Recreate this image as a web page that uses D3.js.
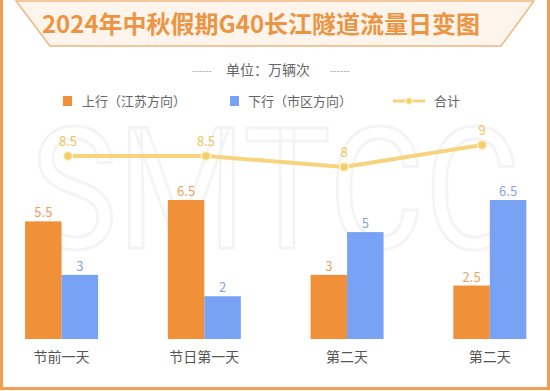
<!DOCTYPE html>
<html>
<head>
<meta charset="utf-8">
<script src="https://cdn.jsdelivr.net/npm/d3@7"></script>
<style>
  html, body { margin: 0; padding: 0; background: #fff; }
  svg { display: block; font-family: "Noto Sans CJK SC", "Noto Sans", sans-serif; }
</style>
</head>
<body>
<div id="chart"></div>
<script>
var days = ['节前一天', '节日第一天', '第二天', '第二天'];
var upValues = [5.5, 6.5, 3, 2.5];
var downValues = [3, 2, 5, 6.5];
var totalValues = [8.5, 8.5, 8, 9];
var seriesNames = ['上行（江苏方向）', '下行（市区方向）', '合计'];

var W = 550, H = 391;
var orange = '#f0913a', blue = '#78a3f4', yellow = '#f5d47c';

var svg = d3.select('#chart').append('svg')
    .attr('width', W)
    .attr('height', H);

// outer frame
svg.append('rect').attr('x', 1.5).attr('y', -2).attr('width', W - 3).attr('height', H - 0.5)
    .style('fill', '#fff').style('stroke', '#f0a050').style('stroke-width', 3);

// watermark
svg.append('text')
    .attr('x', 30).attr('y', 248)
    .attr('textLength', 490)
    .attr('lengthAdjust', 'spacingAndGlyphs')
    .style('font-size', '168px').style('font-family', 'Roboto, sans-serif')
    .style('fill', 'none').style('stroke', '#f4f4f4').style('stroke-width', 3)
    .text('SMTCC');

// title banner
svg.append('path')
    .attr('d', 'M16,1 L534,1 L501,46 L50,46 Z')
    .style('fill', '#fdf5ec').style('stroke', '#efb77e').style('stroke-width', 1.5);

svg.append('text')
    .attr('x', 261).attr('y', 33)
    .attr('text-anchor', 'middle')
    .style('font-size', '24px').style('font-weight', 'bold')
    .style('fill', '#eb9443')
    .text('2024年中秋假期G40长江隧道流量日变图');

// unit line
svg.append('text')
    .attr('x', 268).attr('y', 75)
    .attr('text-anchor', 'middle')
    .style('font-size', '14px').style('fill', '#666')
    .text('单位：万辆次');
svg.append('text').attr('x', 192).attr('y', 74).style('font-size', '9px').style('fill', '#999')
    .style('letter-spacing', '0.2px').text('------');
svg.append('text').attr('x', 330).attr('y', 74).style('font-size', '9px').style('fill', '#999')
    .style('letter-spacing', '0.2px').text('------');

// legend
var legend = svg.append('g');
legend.append('rect').attr('x', 63).attr('y', 96).attr('width', 9).attr('height', 10).style('fill', orange);
legend.append('text').attr('x', 82).attr('y', 106).style('font-size', '13px').style('fill', '#666').text(seriesNames[0]);
legend.append('rect').attr('x', 230).attr('y', 96).attr('width', 9).attr('height', 10).style('fill', blue);
legend.append('text').attr('x', 248).attr('y', 106).style('font-size', '13px').style('fill', '#666').text(seriesNames[1]);
legend.append('line').attr('x1', 393).attr('x2', 425).attr('y1', 101).attr('y2', 101)
    .style('stroke', yellow).style('stroke-width', 3);
legend.append('circle').attr('cx', 409).attr('cy', 101).attr('r', 3.5)
    .style('fill', '#f5cf6a').style('stroke', '#fff4d6').style('stroke-width', 1.5);
legend.append('text').attr('x', 434).attr('y', 106).style('font-size', '13px').style('fill', '#666').text(seriesNames[2]);

// scales: group centres at 61.5, 204, 347, 490
var x0 = d3.scaleBand().domain(d3.range(days.length)).range([-9.8, 561.2]);
var barW = 36.5;
var groupCenter = i => x0(i) + x0.bandwidth() / 2;
var y = d3.scaleLinear().domain([0, 6.5]).range([339, 200]);

var xLine = d3.scalePoint().domain(d3.range(days.length)).range([68, 482]);
var yLine = d3.scaleLinear().domain([8, 9]).range([167, 145]);

// bars
var groups = svg.append('g').selectAll('g')
    .data(days.map((d, i) => i))
    .enter().append('g');

groups.append('rect')
    .attr('x', i => groupCenter(i) - barW)
    .attr('y', i => y(upValues[i]))
    .attr('width', barW)
    .attr('height', i => y(0) - y(upValues[i]))
    .style('fill', orange);

groups.append('rect')
    .attr('x', i => groupCenter(i))
    .attr('y', i => y(downValues[i]))
    .attr('width', barW)
    .attr('height', i => y(0) - y(downValues[i]))
    .style('fill', blue);

groups.append('text')
    .attr('x', i => groupCenter(i) - barW / 2)
    .attr('y', i => y(upValues[i]) - 4)
    .attr('text-anchor', 'middle')
    .style('font-size', '13px').style('fill', '#eba25f')
    .text(i => upValues[i]);

groups.append('text')
    .attr('x', i => groupCenter(i) + barW / 2)
    .attr('y', i => y(downValues[i]) - 4)
    .attr('text-anchor', 'middle')
    .style('font-size', '13px').style('fill', '#7fa5e6')
    .text(i => downValues[i]);

groups.append('text')
    .attr('x', i => groupCenter(i))
    .attr('y', 362)
    .attr('text-anchor', 'middle')
    .style('font-size', '14px').style('fill', '#555')
    .text(i => days[i]);

// total line
var line = d3.line()
    .x((d, i) => xLine(i))
    .y(d => yLine(d));

svg.append('path')
    .datum(totalValues)
    .attr('d', line)
    .style('fill', 'none')
    .style('stroke', yellow)
    .style('stroke-width', 4);

svg.append('g').selectAll('circle')
    .data(totalValues)
    .enter().append('circle')
    .attr('cx', (d, i) => xLine(i))
    .attr('cy', d => yLine(d))
    .attr('r', 4.5)
    .style('fill', '#f5cf6a')
    .style('stroke', '#fff3d2')
    .style('stroke-width', 1.5);

svg.append('g').selectAll('text')
    .data(totalValues)
    .enter().append('text')
    .attr('x', (d, i) => xLine(i))
    .attr('y', d => yLine(d) - 10)
    .attr('text-anchor', 'middle')
    .style('font-size', '13px')
    .style('fill', '#efc45c')
    .text(d => d);
</script>
</body>
</html>
